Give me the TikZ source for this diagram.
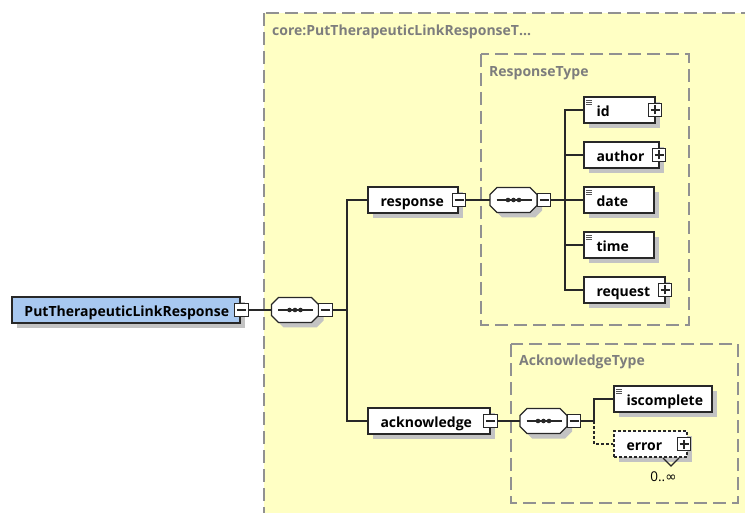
\documentclass[tikz,border=0pt]{standalone}
\usepackage{fontspec}
\setmainfont{Open Sans}
\newfontfamily\symfont{DejaVu Sans}
\usetikzlibrary{shadows}

\definecolor{pale}{RGB}{255,255,196}
\definecolor{rootblue}{RGB}{168,200,240}
\definecolor{linec}{RGB}{40,40,40}
\definecolor{framec}{RGB}{145,145,145}
\definecolor{shadowc}{RGB}{195,195,195}
\definecolor{lblgray}{RGB}{125,125,125}

\pgfdeclarelayer{frames}
\pgfdeclarelayer{lines}
\pgfsetlayers{frames,lines,main}

% label text inside an element box, left aligned with a fixed indent
\newcommand{\lbl}[2]{\makebox[#1pt][l]{\hspace*{12.5pt}#2}}

% sequence compositor: octagon with dots, plus its collapse toggle
\newcommand{\seqgroup}[3]{%
  \begin{scope}[shift={(#2,#3)}]
    \fill[shadowc] (-11.5,-7.5) -- (21.5,-7.5) -- (28.5,-0.5) -- (28.5,10.5)
      -- (21.5,17.5) -- (-11.5,17.5) -- (-18.5,10.5) -- (-18.5,-0.5) -- cycle;
    \filldraw[fill=white,draw=linec,line width=1.2pt]
      (-16.5,-12.5) -- (16.5,-12.5) -- (23.5,-5.5) -- (23.5,5.5)
      -- (16.5,12.5) -- (-16.5,12.5) -- (-23.5,5.5) -- (-23.5,-5.5) -- cycle;
    \node[seqnode] (#1) at (0,0) {};
    \draw[conn] (-17,0) -- (18,0);
    \foreach \d in {-5.5,0,5.5} \fill[linec] (\d,0) circle (2.3);
    \node[toggleminus] (#1-t) at (30.5,0) {};
  \end{scope}}

% three-line marker in the corner of simple-typed elements
\newcommand{\docmark}[1]{%
  \foreach \k in {4,6,8}
    \draw[linec!80,line width=0.7pt] ([shift={(3,\k)}]#1.north west) -- ([shift={(9,\k)}]#1.north west);}

\begin{document}
\begin{tikzpicture}[x=1pt,y=-1pt,
  conn/.style={draw=linec,line width=1.1pt},
  optconn/.style={conn,dash pattern=on 3pt off 2pt},
  frame/.style={draw=framec,line width=1.2pt,dash pattern=on 13pt off 6pt},
  framelbl/.style={text=lblgray,font=\fontsize{14}{16}\selectfont\bfseries,inner sep=0pt,anchor=west},
  elem/.style={draw=linec,line width=1.2pt,fill=white,inner sep=0pt,minimum height=26pt,
    text height=13.5pt,text depth=0pt,
    font=\fontsize{14}{16}\selectfont\bfseries,
    general shadow={fill=shadowc,shadow xshift=5pt,shadow yshift=-5pt}},
  seqnode/.style={rectangle,inner sep=0pt,minimum width=47pt,minimum height=25pt},
  toggle/.style={draw=linec,line width=1.1pt,fill=white,minimum size=13.5pt,inner sep=0pt},
  toggleminus/.style={toggle,path picture={
    \draw[linec,line width=1.1pt] ([xshift=-4.5pt]path picture bounding box.center)
      -- ([xshift=4.5pt]path picture bounding box.center);}},
  toggleplus/.style={toggle,path picture={
    \draw[linec,line width=1.1pt] ([xshift=-4.5pt]path picture bounding box.center)
      -- ([xshift=4.5pt]path picture bounding box.center);
    \draw[linec,line width=1.1pt] ([yshift=-4.5pt]path picture bounding box.center)
      -- ([yshift=4.5pt]path picture bounding box.center);}}
]
\useasboundingbox (0,0) rectangle (745,513);
\clip (0,0) rectangle (745,513);

% type frames
\begin{pgfonlayer}{frames}
\path[frame,fill=pale] (264,13) rectangle (775,545);
\draw[frame] (481,54) rectangle (689,325);
\draw[frame] (511,344) rectangle (738,503);
\end{pgfonlayer}
\node[framelbl] (outerlbl) at (272,32) {core:PutTherapeuticLinkResponseT…};
\node[framelbl] (resplbl) at (489,73) {ResponseType};
\node[framelbl] (acklbl) at (519,362) {AcknowledgeType};

% junction points of the branches
\coordinate (j1) at (347,310);
\coordinate (j2) at (565,200);
\coordinate (j3) at (594,421);

% elements
\node[elem,fill=rootblue,minimum width=228pt] (root) at (126,310) {\lbl{228}{PutTherapeuticLinkResponse}};
\node[toggleminus] (root-t) at (241.5,310) {};
\seqgroup{c1}{295}{310}

\node[elem,minimum width=90pt] (response) at (413,200) {\lbl{90}{response}};
\node[toggleminus] (response-t) at (459,200) {};
\node[elem,minimum width=122pt] (ack) at (429,421) {\lbl{122}{acknowledge}};
\node[toggleminus] (ack-t) at (490.5,421) {};

\seqgroup{c2}{513.5}{200}
\seqgroup{c3}{543.5}{421}

\node[elem,minimum width=71pt] (id) at (619.5,110) {\lbl{71}{id}};
\node[toggleplus] (id-t) at (655,110) {};
\docmark{id}
\node[elem,minimum width=75pt] (author) at (621.5,155) {\lbl{75}{author}};
\node[toggleplus] (author-t) at (659,155) {};
\node[elem,minimum width=70pt] (date) at (619,200) {\lbl{70}{date}};
\docmark{date}
\node[elem,minimum width=70pt] (time) at (619,245) {\lbl{70}{time}};
\docmark{time}
\node[elem,minimum width=81pt] (request) at (624.5,290) {\lbl{81}{request}};
\node[toggleplus] (request-t) at (665,290) {};

\node[elem,minimum width=98pt] (iscomplete) at (663,399) {\lbl{98}{iscomplete}};
\docmark{iscomplete}
\node[elem,minimum width=73pt,dash pattern=on 3pt off 2pt] (error) at (650.5,444) {\lbl{73}{error}};
\node[toggleplus] (error-t) at (684,444) {};
\draw[linec,line width=1.1pt] (663,458) -- (671,466) -- (679,458);
\node[font=\fontsize{13.5}{15}\selectfont,inner sep=0pt] (occurs) at (663.5,477) {0..{\symfont ∞}};

% connectors
\begin{pgfonlayer}{lines}
\draw[conn] (root-t.east) -- (c1.west);
\draw[conn] (c1-t.east) -- (j1);
\draw[conn] (j1) |- (response.west);
\draw[conn] (j1) |- (ack.west);
\draw[conn] (response-t.east) -- (c2.west);
\draw[conn] (c2-t.east) -- (j2);
\draw[conn] (ack-t.east) -- (c3.west);
\draw[conn] (c3-t.east) -- (j3);
\foreach \n in {id,author,date,time,request} \draw[conn] (j2) |- (\n.west);
\draw[conn] (j3) |- (iscomplete.west);
\draw[optconn] (j3) |- (error.west);
\end{pgfonlayer}
\end{tikzpicture}
\end{document}
